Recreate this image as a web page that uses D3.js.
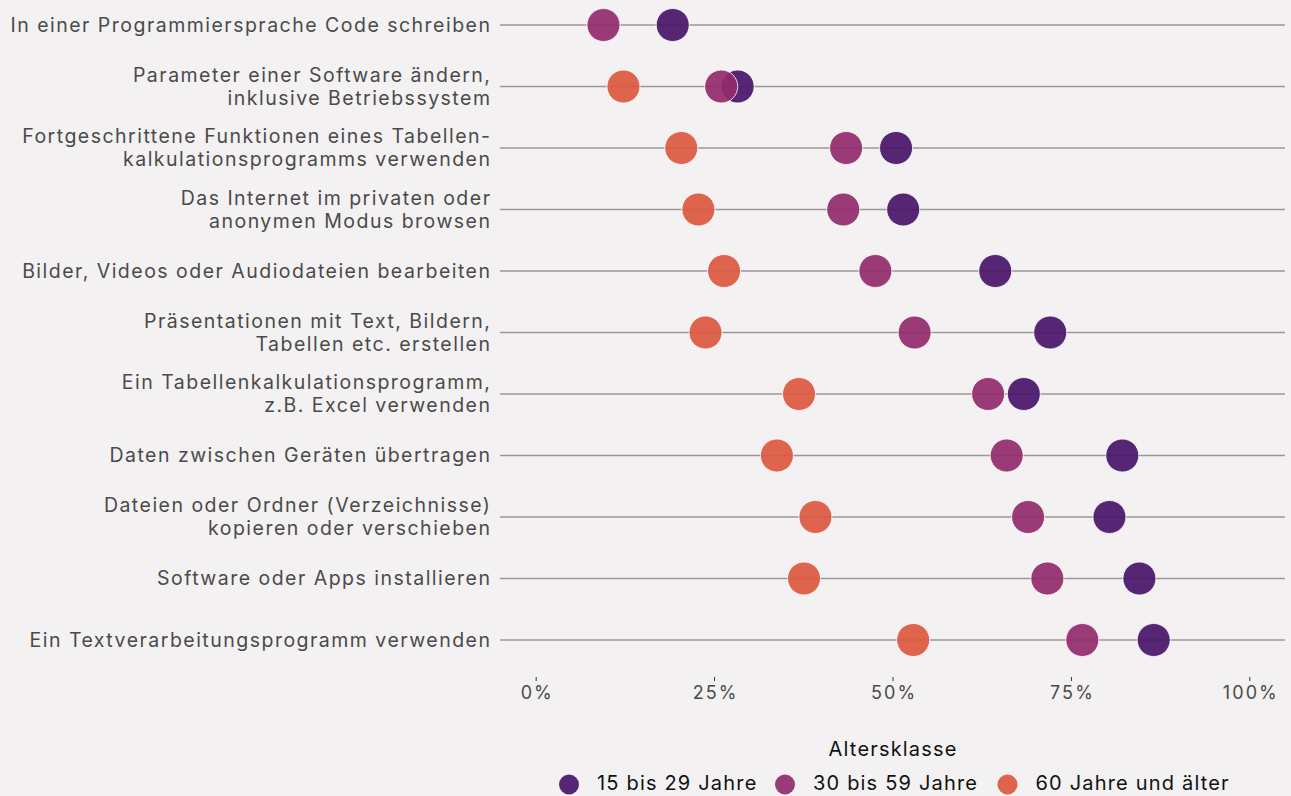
<!DOCTYPE html>
<html>
<head>
<meta charset="utf-8">
<script src="https://cdn.jsdelivr.net/npm/d3@7"></script>
<style>
  html, body { margin: 0; padding: 0; background: #f4f1f2; }
  svg { display: block; }
</style>
</head>
<body>
<svg id="chart" width="1291" height="796"></svg>
<script>
// ---- data ----
const categories = [
  "In einer Programmiersprache Code schreiben",
  "Parameter einer Software ändern,\ninklusive Betriebssystem",
  "Fortgeschrittene Funktionen eines Tabellen-\nkalkulationsprogramms verwenden",
  "Das Internet im privaten oder\nanonymen Modus browsen",
  "Bilder, Videos oder Audiodateien bearbeiten",
  "Präsentationen mit Text, Bildern,\nTabellen etc. erstellen",
  "Ein Tabellenkalkulationsprogramm,\nz.B. Excel verwenden",
  "Daten zwischen Geräten übertragen",
  "Dateien oder Ordner (Verzeichnisse)\nkopieren oder verschieben",
  "Software oder Apps installieren",
  "Ein Textverarbeitungsprogramm verwenden"
];
const age15to29 = [0.192, 0.283, 0.505, 0.515, 0.644, 0.721, 0.684, 0.822, 0.804, 0.846, 0.866];
const age30to59 = [0.095, 0.260, 0.435, 0.431, 0.476, 0.531, 0.634, 0.660, 0.690, 0.717, 0.766];
const age60plus = [null, 0.123, 0.204, 0.228, 0.264, 0.238, 0.369, 0.338, 0.392, 0.376, 0.529];
const seriesNames = ["15 bis 29 Jahre", "30 bis 59 Jahre", "60 Jahre und älter"];
const seriesColors = ["#48156a", "#912b6c", "#db5840"];
const tickValues = [0, 0.25, 0.5, 0.75, 1];
const legendTitle = "Altersklasse";

// ---- layout ----
const FONT = "Inter, 'Noto Sans', sans-serif";
const svg = d3.select("#chart");
const x = d3.scaleLinear().domain([-0.05, 1.05]).range([500, 1285]);
const y = d3.scalePoint().domain(categories).range([25, 640]);
const series = [age15to29, age30to59, age60plus];

// letter-spacing so that a sample string at a given size reaches a target width
function fitSpacing(sample, size, targetW) {
  const t = svg.append("text").attr("font-family", FONT).attr("font-size", size).text(sample);
  const w = t.node().getComputedTextLength();
  t.remove();
  return Math.max(0, (targetW - w) / sample.length);
}
const LABEL_SIZE = 19.5, TICK_SIZE = 18, LEG_SIZE = 20, TITLE_SIZE = 20;
const labelLS = fitSpacing(categories[0], LABEL_SIZE, 481);
const tickLS = fitSpacing("100%", TICK_SIZE, 56);
const legLS = fitSpacing(seriesNames.join(""), LEG_SIZE, 159 + 165 + 196);
const titleLS = fitSpacing(legendTitle, TITLE_SIZE, 129);

// grid lines per category
svg.append("g").selectAll("line").data(categories).join("line")
  .attr("x1", x(-0.05)).attr("x2", x(1.05))
  .attr("y1", d => y(d)).attr("y2", d => y(d))
  .attr("stroke", "#9a9799").attr("stroke-width", 1.4);

// category labels
const lab = svg.append("g");
categories.forEach(c => {
  const lines = c.split("\n");
  const t = lab.append("text")
    .attr("x", 490).attr("y", y(c))
    .attr("text-anchor", "end")
    .attr("font-family", FONT).attr("font-size", LABEL_SIZE)
    .attr("letter-spacing", labelLS)
    .attr("fill", "#4a4a4a");
  lines.forEach((ln, i) => {
    t.append("tspan").attr("x", 490 + labelLS)
      .attr("y", y(c) + (i - (lines.length - 1) / 2) * 23)
      .attr("dy", "0.35em")
      .text(ln);
  });
});

// points
series.forEach((vals, si) => {
  svg.append("g").selectAll("circle")
    .data(vals.map((v, i) => ({ v, c: categories[i] })).filter(d => d.v != null))
    .join("circle")
    .attr("cx", d => x(d.v)).attr("cy", d => y(d.c)).attr("r", 16.5)
    .attr("fill", seriesColors[si]).attr("fill-opacity", 0.92)
    .attr("stroke", "#ffffff").attr("stroke-opacity", 0.8).attr("stroke-width", 1);
});

// x axis
const ax = svg.append("g").attr("transform", "translate(0,677)")
  .call(d3.axisBottom(x).tickValues(tickValues).tickFormat(d3.format(".0%")).tickSize(4).tickPadding(5));
ax.select(".domain").remove();
ax.selectAll(".tick line").attr("stroke", "#333").attr("stroke-width", 1);
ax.selectAll(".tick text").attr("font-family", FONT).attr("font-size", TICK_SIZE)
  .attr("letter-spacing", tickLS).attr("dx", tickLS / 2).attr("fill", "#4a4a4a");

// legend
svg.append("text").attr("x", 892.5 + titleLS / 2).attr("y", 756)
  .attr("text-anchor", "middle").attr("font-family", FONT).attr("font-size", TITLE_SIZE)
  .attr("letter-spacing", titleLS)
  .attr("fill", "#111").text(legendTitle);

const legendX = [569, 785, 1007.5];
const lg = svg.append("g");
seriesNames.forEach((n, i) => {
  lg.append("circle").attr("cx", legendX[i]).attr("cy", 784.5).attr("r", 10)
    .attr("fill", seriesColors[i]).attr("fill-opacity", 0.92);
  lg.append("text").attr("x", legendX[i] + 28).attr("y", 790)
    .attr("font-family", FONT).attr("font-size", LEG_SIZE)
    .attr("letter-spacing", legLS)
    .attr("fill", "#111").text(n);
});
</script>
</body>
</html>
